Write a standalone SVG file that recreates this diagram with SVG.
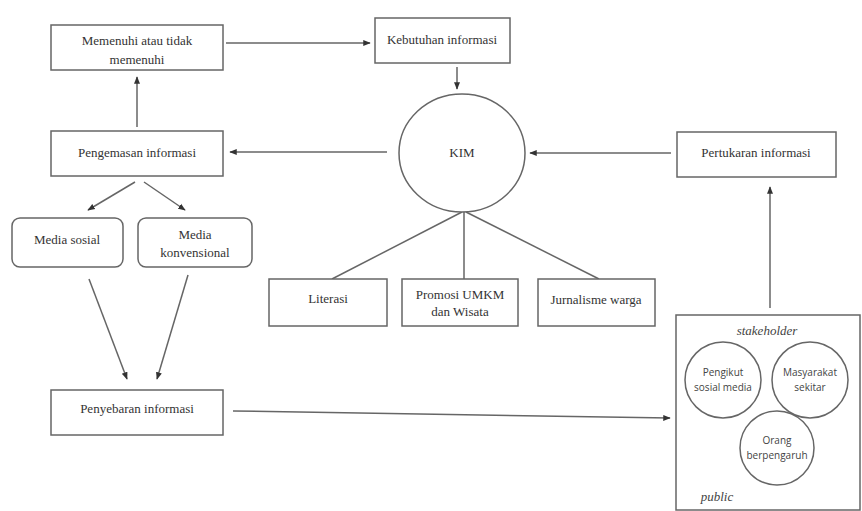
<svg xmlns="http://www.w3.org/2000/svg" width="862" height="511" viewBox="0 0 862 511">
<style>
.box{fill:#fff;stroke:#666;stroke-width:1.5}
.t{font-family:"Liberation Serif","Times New Roman",serif;font-size:13px;fill:#333;text-anchor:middle}
.s{font-family:"Open Sans","Liberation Sans",sans-serif;font-size:10px;fill:#444;text-anchor:middle}
.i{font-family:"Liberation Serif",serif;font-style:italic;font-size:13px;fill:#444;text-anchor:middle}
.c{stroke:#666;stroke-width:1.5;fill:none}
.a{marker-end:url(#ah)}
</style>
<defs>
<marker id="ah" viewBox="0 0 10 10" refX="9" refY="5" markerWidth="5" markerHeight="5" orient="auto" markerUnits="strokeWidth">
<path d="M0,1 L10,5 L0,9 z" fill="#333"/>
</marker>
</defs>
<rect width="862" height="511" fill="#fff"/>
<g id="connectors">
<line class="c a" x1="226" y1="43" x2="370" y2="43"/>
<line class="c a" x1="457" y1="67" x2="457" y2="89"/>
<line class="c a" x1="387" y1="152" x2="230" y2="152"/>
<line class="c a" x1="137" y1="127" x2="137" y2="77"/>
<line class="c a" x1="671" y1="153" x2="530" y2="153"/>
<line class="c a" x1="770" y1="308" x2="770" y2="187"/>
<line class="c a" x1="135" y1="182" x2="88" y2="210"/>
<line class="c a" x1="144" y1="182" x2="185" y2="210"/>
<line class="c a" x1="89" y1="279" x2="127" y2="379"/>
<line class="c a" x1="188" y1="275" x2="157" y2="379"/>
<line class="c a" x1="233" y1="411" x2="670" y2="418"/>
<line class="c" x1="462" y1="212" x2="332" y2="279"/>
<line class="c" x1="464" y1="212" x2="464" y2="279"/>
<line class="c" x1="466" y1="212" x2="599" y2="279"/>
</g>
<g id="memenuhi">
<rect class="box" x="51" y="25" width="172" height="45"/>
<text class="t" x="137" y="45">Memenuhi atau tidak</text>
<text class="t" x="137" y="64">memenuhi</text>
</g>
<g id="kebutuhan">
<rect class="box" x="375" y="18" width="135" height="45"/>
<text class="t" x="442" y="44">Kebutuhan informasi</text>
</g>
<g id="kim">
<ellipse class="box" cx="462" cy="153" rx="63" ry="59"/>
<text class="t" x="462" y="157">KIM</text>
</g>
<g id="pengemasan">
<rect class="box" x="51" y="131" width="172" height="45"/>
<text class="t" x="137" y="157">Pengemasan informasi</text>
</g>
<g id="pertukaran">
<rect class="box" x="677" y="132" width="159" height="45"/>
<text class="t" x="756" y="157">Pertukaran informasi</text>
</g>
<g id="media-sosial">
<rect class="box" x="12" y="218" width="111" height="49" rx="8"/>
<text class="t" x="67" y="244">Media sosial</text>
</g>
<g id="media-konvensional">
<rect class="box" x="138" y="218" width="114" height="49" rx="8"/>
<text class="t" x="195" y="239">Media</text>
<text class="t" x="195" y="257">konvensional</text>
</g>
<g id="literasi">
<rect class="box" x="269" y="279" width="118" height="47"/>
<text class="t" x="328" y="303">Literasi</text>
</g>
<g id="promosi">
<rect class="box" x="402" y="279" width="116" height="47"/>
<text class="t" x="460" y="299">Promosi UMKM</text>
<text class="t" x="460" y="316">dan Wisata</text>
</g>
<g id="jurnalisme">
<rect class="box" x="538" y="279" width="117" height="47"/>
<text class="t" x="596" y="304">Jurnalisme warga</text>
</g>
<g id="penyebaran">
<rect class="box" x="51" y="390" width="172" height="45"/>
<text class="t" x="137" y="413">Penyebaran informasi</text>
</g>
<g id="public">
<rect class="box" x="676" y="315" width="184" height="195"/>
<text class="i" x="767" y="335">stakeholder</text>
<text class="i" x="717" y="501">public</text>
<g id="pengikut">
<circle class="box" cx="723" cy="380" r="38"/>
<text class="s" x="723" y="376">Pengikut</text>
<text class="s" x="723" y="391">sosial media</text>
</g>
<g id="masyarakat">
<circle class="box" cx="810" cy="380" r="38"/>
<text class="s" x="810" y="376">Masyarakat</text>
<text class="s" x="810" y="391">sekitar</text>
</g>
<g id="orang">
<circle class="box" cx="777" cy="448" r="37"/>
<text class="s" x="777" y="444">Orang</text>
<text class="s" x="777" y="459">berpengaruh</text>
</g>
</g>
</svg>
